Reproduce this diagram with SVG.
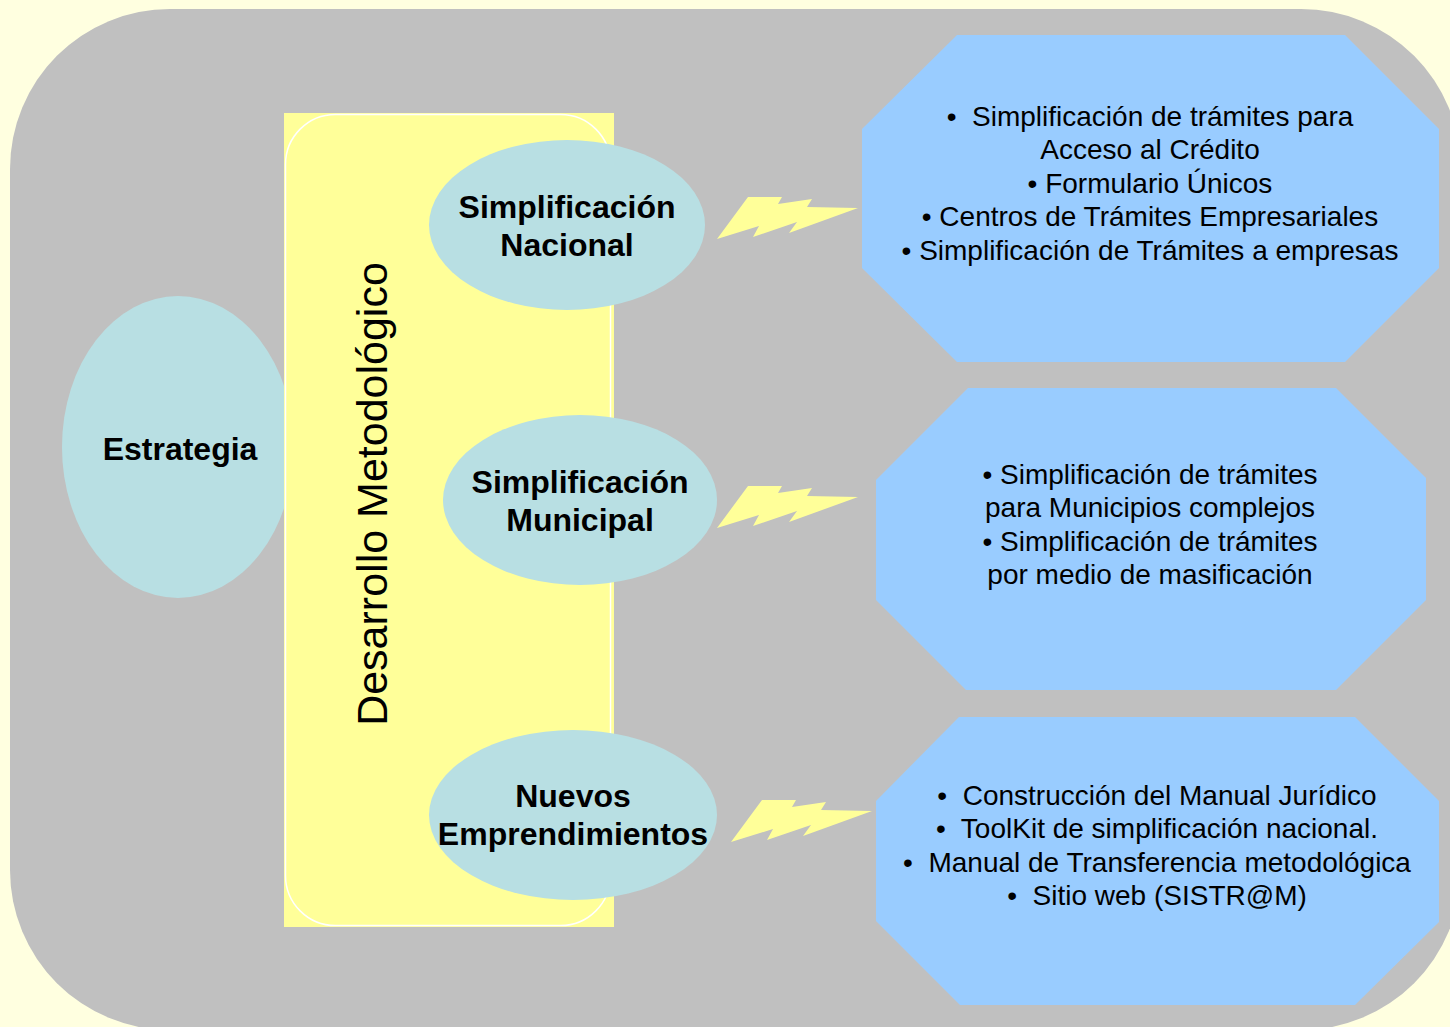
<svg xmlns="http://www.w3.org/2000/svg" width="1450" height="1027" viewBox="0 0 1450 1027">
<defs>
<style>
.ell{fill:#B8DFE3}
.oct{fill:#99CCFF}
.bolt{fill:#FFFF99}
.t{font-family:"Liberation Sans",Arial,sans-serif;fill:#000;text-anchor:middle}
.b{font-weight:bold;font-size:32px}
.r{font-size:28px;white-space:pre}
</style>
<path id="boltShape" d="M0,0 L31,-42 L65,-42 L61,-35 L95,-40 L90,-32 L141,-31 L72,-6 L80,-17 L36,-2 L42,-13 Z"/>
</defs>
<rect x="0" y="0" width="1450" height="1027" fill="#FFFFE0"/>
<rect x="10" y="9" width="1451" height="1021" rx="160" ry="160" fill="#C0C0C0"/>
<g id="estrategia">
<ellipse class="ell" cx="178" cy="447" rx="116" ry="151"/>
<text class="t b" x="180" y="460">Estrategia</text>
</g>
<g id="desarrollo">
<rect x="284" y="113" width="330" height="814" fill="#FFFF99"/>
<rect x="285.5" y="114.5" width="325" height="811" rx="50" ry="50" fill="none" stroke="#FFFFFF" stroke-width="1.5"/>
<text class="t" font-size="43" transform="translate(387,494) rotate(-90)">Desarrollo Metodológico</text>
</g>
<g id="nacional">
<ellipse class="ell" cx="567" cy="225" rx="138" ry="85"/>
<text class="t b" x="567" y="218">Simplificación</text>
<text class="t b" x="567" y="256">Nacional</text>
</g>
<g id="municipal">
<ellipse class="ell" cx="580" cy="500" rx="137" ry="85"/>
<text class="t b" x="580" y="493">Simplificación</text>
<text class="t b" x="580" y="531">Municipal</text>
</g>
<g id="nuevos">
<ellipse class="ell" cx="573" cy="815" rx="144" ry="85"/>
<text class="t b" x="573" y="807">Nuevos</text>
<text class="t b" x="573" y="845">Emprendimientos</text>
</g>
<g id="connectors">
<use href="#boltShape" class="bolt" transform="translate(717,239)"/>
<use href="#boltShape" class="bolt" transform="translate(717,528)"/>
<use href="#boltShape" class="bolt" transform="translate(731,842)"/>
</g>
<g id="box-nacional">
<polygon class="oct" points="957,35 1345,35 1439,129 1439,268 1345,362 957,362 862,268 862,129"/>
<text class="t r" x="1150" y="126">•  Simplificación de trámites para</text>
<text class="t r" x="1150" y="159">Acceso al Crédito</text>
<text class="t r" x="1150" y="193">• Formulario Únicos</text>
<text class="t r" x="1150" y="226">• Centros de Trámites Empresariales</text>
<text class="t r" x="1150" y="260">• Simplificación de Trámites a empresas</text>
</g>
<g id="box-municipal">
<polygon class="oct" points="968,388 1336,388 1426,478 1426,600 1336,690 966,690 876,600 876,480"/>
<text class="t r" x="1150" y="484">• Simplificación de trámites</text>
<text class="t r" x="1150" y="517">para Municipios complejos</text>
<text class="t r" x="1150" y="551">• Simplificación de trámites</text>
<text class="t r" x="1150" y="584">por medio de masificación</text>
</g>
<g id="box-nuevos">
<polygon class="oct" points="959,717 1355,717 1439,801 1439,922 1355,1005 960,1005 876,921 876,801"/>
<text class="t r" x="1157" y="805">•  Construcción del Manual Jurídico</text>
<text class="t r" x="1157" y="838">•  ToolKit de simplificación nacional.</text>
<text class="t r" x="1157" y="872">•  Manual de Transferencia metodológica</text>
<text class="t r" x="1157" y="905">•  Sitio web (SISTR@M)</text>
</g>
</svg>
